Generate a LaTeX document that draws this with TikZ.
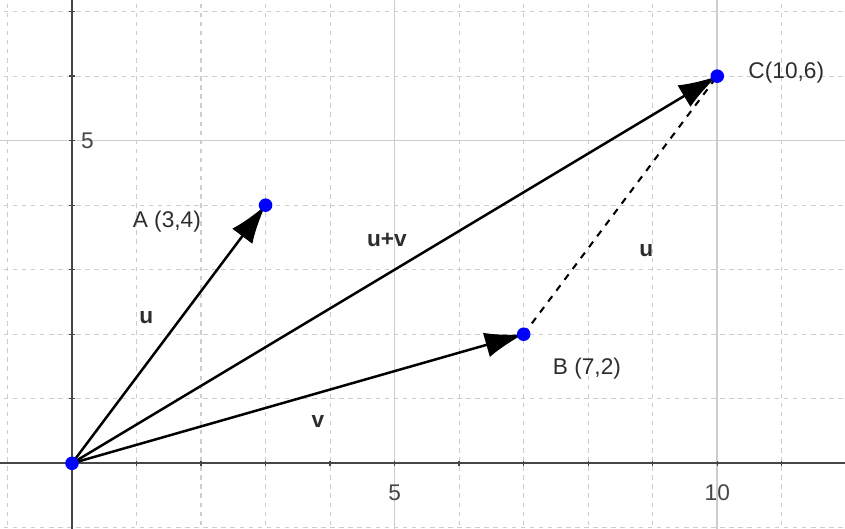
\documentclass[tikz,border=0pt]{standalone}
\usepackage{fontspec}
\setmainfont{Liberation Sans}
\usetikzlibrary{arrows.meta}
\definecolor{gridgray}{RGB}{205,205,205}
\definecolor{axisgray}{RGB}{70,70,70}
\definecolor{labelgray}{RGB}{45,45,45}

\begin{document}
\begin{tikzpicture}[>={Latex[length=6mm,width=3.9mm]},
    pt/.style={circle, fill=blue, inner sep=0pt, minimum size=2.1mm},
    vec/.style={->, line width=1.1pt, draw=black},
    lbl/.style={text=labelgray, font=\fontsize{10}{12}\selectfont},
    vlbl/.style={text=labelgray, font=\fontsize{10}{12}\selectfont\bfseries},
    ticklbl/.style={text=axisgray, font=\fontsize{10}{12}\selectfont}]

\useasboundingbox (-1.116,-1.008) rectangle (11.98,7.18);

% grid
\draw [gridgray, dash pattern=on 2pt off 2pt, line width=0.5pt] (-1.2,-1.1) grid (12.1,7.3);
\draw [gridgray, line width=0.7pt] (-1.2,5) -- (12.1,5);
\draw [gridgray, line width=0.7pt] (5,-1.1) -- (5,7.3);
\draw [gridgray, line width=0.7pt] (10,-1.1) -- (10,7.3);

% axes
\draw [axisgray, line width=0.9pt] (-1.2,0) -- (12.1,0);
\draw [axisgray, line width=0.9pt] (0,-1.1) -- (0,7.3);
\foreach \i in {1,...,11} \draw [axisgray, line width=0.6pt] (\i,-0.04) -- (\i,0.04);
\foreach \j in {1,...,7} \draw [axisgray, line width=0.6pt] (-0.04,\j) -- (0.04,\j);
\node [ticklbl] (x5) at (5,-0.45) {5};
\node [ticklbl] (x10) at (10,-0.45) {10};
\node [ticklbl] (y5) at (0.24,5) {5};

% points
\coordinate (O) at (0,0);
\coordinate (A) at (3,4);
\coordinate (B) at (7,2);
\coordinate (C) at (10,6);

% vectors
\draw [black, dashed, line width=0.9pt] (B) -- (C);
\draw [vec] (O) -- (A);
\draw [vec] (O) -- (B);
\draw [vec] (O) -- (C);

% dots on top
\foreach \p in {O,A,B,C} \node [pt] (dot\p) at (\p) {};

% labels
\node [lbl] (labA) at (1.47,3.75) {A (3,4)};
\node [lbl] (labB) at (7.98,1.47) {B (7,2)};
\node [lbl] (labC) at (11.07,6.05) {C(10,6)};
\node [vlbl] (labu) at (1.15,2.25) {u};
\node [vlbl] (labuv) at (4.88,3.46) {u+v};
\node [vlbl] (labu2) at (8.9,3.3) {u};
\node [vlbl] (labv) at (3.81,0.65) {v};

\end{tikzpicture}
\end{document}
